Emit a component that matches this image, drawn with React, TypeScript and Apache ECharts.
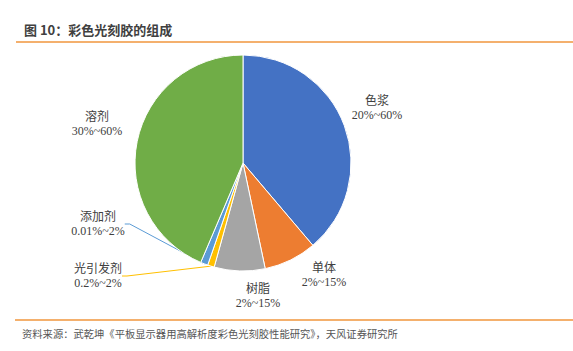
import React, { useEffect, useRef } from "react";
import * as echarts from "echarts";

const names = ["色浆", "单体", "树脂", "光引发剂", "添加剂", "溶剂"];
const values = [38.8, 7.9, 7.6, 1.0, 1.1, 43.6];
const ranges = ["20%~60%", "2%~15%", "2%~15%", "0.2%~2%", "0.01%~2%", "30%~60%"];
const colors = ["#4472C4", "#ED7D31", "#A5A5A5", "#FFC000", "#5B9BD5", "#70AD47"];
const labelPos: [number, number][] = [
  [377, 108],
  [324, 275],
  [258, 296],
  [98, 276],
  [98, 224],
  [97, 124],
];
const showLine = [false, false, false, true, true, false];

const titleText = "图 10：彩色光刻胶的组成";
const sourceText = "资料来源：武乾坤《平板显示器用高解析度彩色光刻胶性能研究》，天风证券研究所";

export default function App() {
  const ref = useRef<HTMLDivElement>(null);
  useEffect(() => {
    if (!ref.current) return;
    const chart = echarts.init(ref.current, null, { renderer: "svg" });
    chart.setOption({
      animation: false,
      backgroundColor: "#ffffff",
      graphic: [
        {
          type: "text",
          left: 24,
          top: 23,
          style: {
            text: titleText,
            font: "bold 13px 'Noto Sans CJK SC', sans-serif",
            fill: "#404040",
          },
        },
        {
          type: "line",
          shape: { x1: 16, y1: 42, x2: 573, y2: 42 },
          style: { stroke: "#F0963C", lineWidth: 1.5 },
        },
        {
          type: "line",
          shape: { x1: 15, y1: 320, x2: 573, y2: 320 },
          style: { stroke: "#F0963C", lineWidth: 1.5 },
        },
        {
          type: "text",
          left: 22,
          top: 328,
          style: {
            text: sourceText,
            font: "10.3px 'Noto Sans CJK SC', sans-serif",
            fill: "#555555",
          },
        },
      ],
      series: [
        {
          type: "pie",
          center: [243, 163],
          radius: 108,
          startAngle: 90,
          clockwise: true,
          avoidLabelOverlap: false,
          itemStyle: { borderColor: "#ffffff", borderWidth: 1 },
          label: {
            show: true,
            position: "outside",
            formatter: (p: any) => p.name + "\n" + ranges[p.dataIndex],
            fontFamily: "'Liberation Serif', 'Noto Sans CJK SC', serif",
            fontSize: 12,
            lineHeight: 14,
            color: "#404040",
            align: "center",
          },
          labelLine: { show: true, length: 5, length2: 5, lineStyle: { width: 1 } },
          labelLayout: (params: any) => {
            const [x, y] = labelPos[params.dataIndex];
            return { x, y, align: "center", verticalAlign: "middle" };
          },
          data: names.map((n, i) => ({
            name: n,
            value: values[i],
            itemStyle: { color: colors[i] },
            labelLine: { show: showLine[i] },
          })),
        },
      ],
    });
    return () => chart.dispose();
  }, []);
  return (
    <div
      ref={ref}
      style={{ position: "fixed", left: 0, top: 0, width: 573, height: 351 }}
    />
  );
}
